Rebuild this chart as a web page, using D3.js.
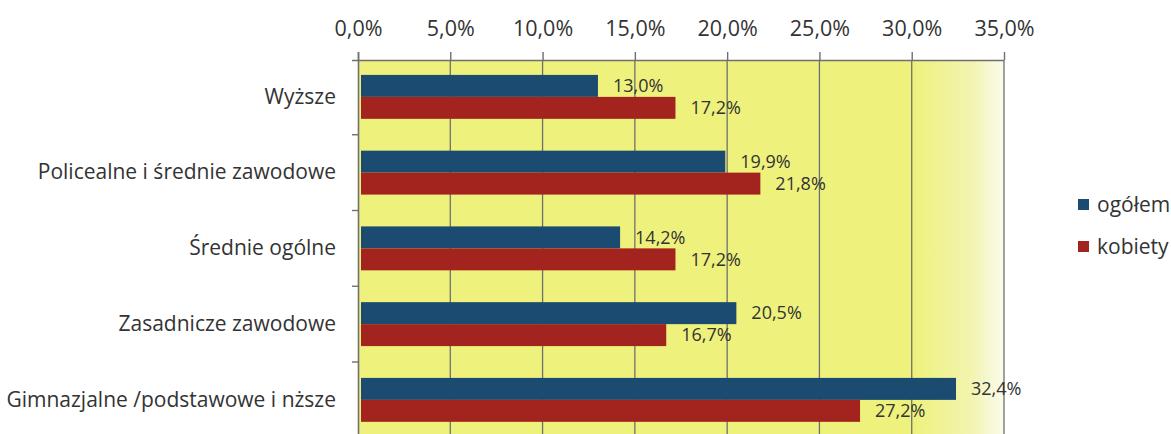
<!DOCTYPE html>
<html><head><meta charset="utf-8">
<script src="https://cdn.jsdelivr.net/npm/d3@7"></script>
<style>
body{margin:0;background:#fff;}
text{font-family:"Open Sans","Lato",sans-serif;fill:#333;}
</style></head>
<body><svg id="c" width="1171" height="434"></svg>
<script>
const categories = ["Wyższe","Policealne i średnie zawodowe","Średnie ogólne","Zasadnicze zawodowe","Gimnazjalne /podstawowe i nższe"];
const seriesNames = ["ogółem","kobiety"];
const ogolem = [13.0,19.9,14.2,20.5,32.4];
const kobiety = [17.2,21.8,17.2,16.7,27.2];
const tickValues = [0,5,10,15,20,25,30,35];
const colors = ["#1b4b70","#a3241f"];

const svg = d3.select("#c");
const pL = 358, pR = 1004, pT = 60, pB = 438;
const x = d3.scaleLinear().domain([0,35]).range([pL,pR]);
const y = d3.scaleBand().domain(categories).range([59,59+5*75.75]).paddingInner(0.42).paddingOuter(0.21);
const y1 = d3.scaleBand().domain(seriesNames).range([0,y.bandwidth()]);

const defs = svg.append("defs");
const g = defs.append("linearGradient").attr("id","bg").attr("x1","0").attr("x2","1").attr("y1","0").attr("y2","0");
g.append("stop").attr("offset","0").attr("stop-color","#eef27c");
g.append("stop").attr("offset","0.86").attr("stop-color","#eef27c");
g.append("stop").attr("offset","0.95").attr("stop-color","#f2f4b0");
g.append("stop").attr("offset","1").attr("stop-color","#fbfbee");
svg.append("rect").attr("x",pL).attr("y",pT).attr("width",pR-pL).attr("height",pB-pT).attr("fill","url(#bg)");

// gridlines
svg.append("g").selectAll("line").data(tickValues.slice(1)).join("line")
  .attr("x1",d=>x(d)).attr("x2",d=>x(d)).attr("y1",pT).attr("y2",pB)
  .attr("stroke","#6f6f6f").attr("stroke-width",1.3);

// top axis
const xa = svg.append("g").attr("transform",`translate(0,${pT})`)
  .call(d3.axisTop(x).tickValues(tickValues).tickSize(8).tickPadding(16)
    .tickFormat(d=>d3.format(".1f")(d).replace(".",",")+"%"));
xa.select(".domain").attr("stroke","#6f6f6f").attr("stroke-width",1.6).attr("d",`M${pL-6},0.5H${pR}`);
xa.selectAll(".tick line").attr("stroke","#6f6f6f").attr("stroke-width",1.4);
xa.selectAll("text").style("font-size","21.5px").attr("fill","#333");

// left axis
const ya = svg.append("g").attr("transform",`translate(${pL},0)`)
  .call(d3.axisLeft(y).tickSize(0).tickPadding(22));
ya.select(".domain").attr("stroke","#6f6f6f").attr("stroke-width",1.6).attr("d",`M0.5,${pT-8}V${pB}`);
ya.selectAll("text").style("font-size","21px").attr("fill","#222");
// category boundary ticks
const step = y.step();
const bounds = categories.slice(1).map(c=>y(c) - y.paddingInner()*step/2);
svg.append("g").selectAll("line").data(bounds).join("line")
  .attr("x1",pL-6).attr("x2",pL).attr("y1",d=>d).attr("y2",d=>d)
  .attr("stroke","#6f6f6f").attr("stroke-width",1.4);

const data = categories.map((c,i)=>({cat:c, vals:[{s:seriesNames[0],v:ogolem[i]},{s:seriesNames[1],v:kobiety[i]}]}));
const grp = svg.append("g").selectAll("g").data(data).join("g").attr("transform",d=>`translate(0,${y(d.cat)})`);
grp.selectAll("rect").data(d=>d.vals).join("rect")
  .attr("x",pL+3).attr("y",d=>y1(d.s)).attr("width",d=>x(d.v)-pL-3).attr("height",y1.bandwidth())
  .attr("fill",(d,i)=>colors[i]);
grp.selectAll("text.v").data(d=>d.vals).join("text").attr("class","v")
  .attr("x",d=>x(d.v)+15).attr("y",d=>y1(d.s)+y1.bandwidth()/2).attr("dy","0.35em")
  .style("font-size","18px").attr("fill","#333")
  .text(d=>d3.format(".1f")(d.v).replace(".",",")+"%");

// legend
const lg = svg.append("g").attr("transform","translate(1078,199)");
seriesNames.forEach((s,i)=>{
  lg.append("rect").attr("x",0).attr("y",i*42).attr("width",11).attr("height",11).attr("fill",colors[i]);
  lg.append("text").attr("x",19).attr("y",i*42+6).attr("dy","0.35em").style("font-size","21px").attr("fill","#222").text(s);
});
</script></body></html>
